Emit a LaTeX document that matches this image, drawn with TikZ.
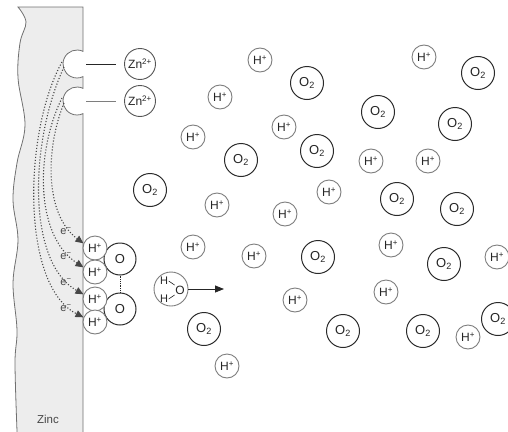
\documentclass[tikz,border=0pt]{standalone}
\usepackage{fontspec}
\setmainfont{Liberation Sans}
\usetikzlibrary{arrows.meta}

\definecolor{plate}{HTML}{EDEDED}
\definecolor{plateedge}{HTML}{707070}
\definecolor{ringH}{HTML}{7E7E7E}
\definecolor{ringO}{HTML}{2A2A2A}
\definecolor{ink}{HTML}{262626}

\tikzset{
  hion/.style={circle, draw=ringH, fill=white, line width=0.9pt, inner sep=0pt,
    minimum size=24pt, text=ink, font=\fontsize{12}{14}\selectfont},
  oxy/.style={circle, draw=ringO, fill=white, line width=1pt, inner sep=0pt,
    minimum size=33pt, text=ink, font=\fontsize{13}{15}\selectfont},
  znion/.style={hion, draw=ringO!80, minimum size=31pt},
  elec/.style={ink!85, line width=1.1pt, dash pattern=on 1.1pt off 1.9pt,
    -{Triangle[length=8pt,width=7pt]}},
  elabel/.style={text=ink!85, font=\fontsize{11}{13}\selectfont},
}

\begin{document}
\begin{tikzpicture}[x=1pt, y=-1pt]
    \useasboundingbox (0,0) rectangle (508,431);

    % zinc plate with two pits
    \draw[fill=plate, draw=plateedge, line width=0.8pt]
      (18,7) -- (83,7) -- (83,51.35) arc[start angle=64.6, end angle=295.4, radius=14pt]
      -- (83,88.35) arc[start angle=64.6, end angle=295.4, radius=14pt]
      -- (83,434) -- (17,434)
      -- plot[smooth, tension=0.6] coordinates {(17,431) (15,363) (17,330) (13,283) (18,240)
         (13,200) (17,163) (25,125) (18,78) (20,43) (26,22) (18,7)}
      -- cycle;
    \node[elabel, font=\fontsize{11.5}{13}\selectfont] (zinc) at (48,419) {Zinc};

    \coordinate (pit1) at (86,64);
    \coordinate (pit2) at (86,101);
    \node[znion] (zn1) at (140,64) {Zn\textsuperscript{2+}};
    \node[znion] (zn2) at (140,101) {Zn\textsuperscript{2+}};
    \draw[ink, line width=0.8pt, shorten >=8pt] (pit1) -- (zn1);
    \draw[ringH, line width=0.8pt, shorten >=8pt] (pit2) -- (zn2);

    % cathodic site
    \node[oxy, minimum size=32pt] (ox1) at (120,259) {O};
    \node[oxy, minimum size=32pt] (ox2) at (120,309) {O};
    \draw[ink, line width=0.8pt, densely dotted] (ox1) -- (ox2);
    \node[hion] (c1) at (95,248) {H\textsuperscript{+}};
    \node[hion] (c2) at (95,272) {H\textsuperscript{+}};
    \node[hion] (c3) at (95,299) {H\textsuperscript{+}};
    \node[hion] (c4) at (95,322) {H\textsuperscript{+}};

    \coordinate (s1) at (64,103);
    \coordinate (s2) at (62,98);
    \coordinate (s3) at (64,67);
    \coordinate (s4) at (62,62);
    \draw[elec] (s1) .. controls (45,150) and (45,215) .. (c1.158);
    \draw[elec] (s2) .. controls (36,150) and (34,235) .. (c2.158);
    \draw[elec] (s3) .. controls (30,140) and (26,262) .. (c3.158);
    \draw[elec] (s4) .. controls (24,130) and (20,285) .. (c4.158);
    \node[elabel] (e1) at (66,231) {e\textsuperscript{−}};
    \node[elabel] (e2) at (66,256) {e\textsuperscript{−}};
    \node[elabel] (e3) at (66,282) {e\textsuperscript{−}};
    \node[elabel] (e4) at (66,308) {e\textsuperscript{−}};

    % water leaving
    \node[hion, minimum size=34pt] (w) at (171,289) {};
    \node[text=ink, inner sep=0.5pt, font=\fontsize{11}{13}\selectfont] (wh1) at (164,281) {H};
    \node[text=ink, inner sep=0.5pt, font=\fontsize{11}{13}\selectfont] (wh2) at (164,299) {H};
    \node[text=ink, inner sep=0.5pt, font=\fontsize{12}{14}\selectfont] (wo) at (180,290) {O};
    \draw[ink, line width=0.6pt] (wh1.east) -- (wo.north west);
    \draw[ink, line width=0.6pt] (wh2.east) -- (wo.south west);
    \coordinate (push) at (224,289);
    \draw[ink, line width=0.8pt, -{Triangle[length=9pt,width=7pt]}] (w) -- (push);

    % hydrogen ions
    \node[hion] (h1) at (260,60) {H\textsuperscript{+}};
    \node[hion] (h2) at (424,57) {H\textsuperscript{+}};
    \node[hion] (h3) at (220,97) {H\textsuperscript{+}};
    \node[hion] (h4) at (284,127) {H\textsuperscript{+}};
    \node[hion] (h5) at (193,137) {H\textsuperscript{+}};
    \node[hion] (h6) at (371,161) {H\textsuperscript{+}};
    \node[hion] (h7) at (428,161) {H\textsuperscript{+}};
    \node[hion] (h8) at (329,192) {H\textsuperscript{+}};
    \node[hion] (h9) at (217,205) {H\textsuperscript{+}};
    \node[hion] (h10) at (285,214) {H\textsuperscript{+}};
    \node[hion] (h11) at (193,247) {H\textsuperscript{+}};
    \node[hion] (h12) at (254,256) {H\textsuperscript{+}};
    \node[hion] (h13) at (391,245) {H\textsuperscript{+}};
    \node[hion] (h14) at (497,257) {H\textsuperscript{+}};
    \node[hion] (h15) at (386,292) {H\textsuperscript{+}};
    \node[hion] (h16) at (295,300) {H\textsuperscript{+}};
    \node[hion] (h17) at (468,337) {H\textsuperscript{+}};
    \node[hion] (h18) at (227,366) {H\textsuperscript{+}};

    % oxygen molecules
    \node[oxy] (o1) at (307,83) {O\textsubscript{2}};
    \node[oxy] (o2) at (478,73) {O\textsubscript{2}};
    \node[oxy] (o3) at (378,112) {O\textsubscript{2}};
    \node[oxy] (o4) at (455,124) {O\textsubscript{2}};
    \node[oxy] (o5) at (241,160) {O\textsubscript{2}};
    \node[oxy] (o6) at (317,151) {O\textsubscript{2}};
    \node[oxy] (o7) at (150,190) {O\textsubscript{2}};
    \node[oxy] (o8) at (397,199) {O\textsubscript{2}};
    \node[oxy] (o9) at (457,209) {O\textsubscript{2}};
    \node[oxy] (o10) at (318,257) {O\textsubscript{2}};
    \node[oxy] (o11) at (444,264) {O\textsubscript{2}};
    \node[oxy] (o12) at (204,329) {O\textsubscript{2}};
    \node[oxy] (o13) at (343,331) {O\textsubscript{2}};
    \node[oxy] (o14) at (423,331) {O\textsubscript{2}};
    \node[oxy] (o15) at (498,319) {O\textsubscript{2}};
\end{tikzpicture}
\end{document}
